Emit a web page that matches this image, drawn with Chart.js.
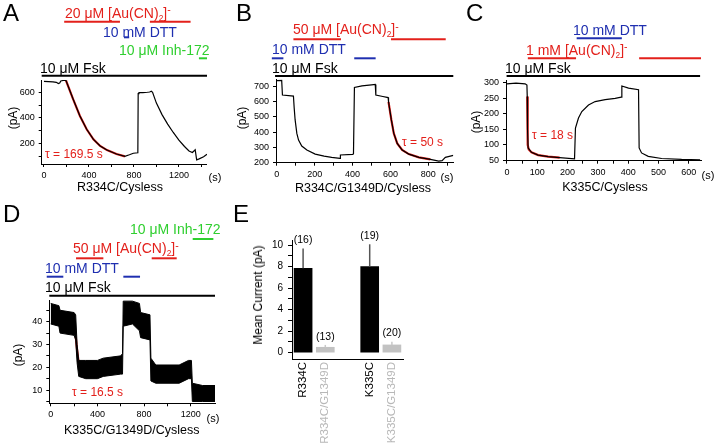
<!DOCTYPE html>
<html>
<head>
<meta charset="utf-8">
<script src="https://cdn.jsdelivr.net/npm/chart.js@4.4.1/dist/chart.umd.min.js"></script>
<style>
body { margin: 0; background: #fff; }
#fig { position: relative; width: 716px; height: 448px; overflow: hidden; font-family: 'Liberation Sans', Arial, sans-serif; }
#fig canvas { position: absolute; left: 0; top: 0; }
.t { position: absolute; white-space: nowrap; line-height: 1; font-size: 14px; transform: translateY(-50%); }
.c { transform: translate(-50%, -50%); }
.rot { transform: translate(-50%, -50%) rotate(-90deg); }
.p { font-size: 24px; }
.m { font-size: 12px; }
.ax { font-size: 12.5px; }
.u { font-size: 11px; }
.r { color: #e3201b; }
.b { color: #1f2fb0; }
.g { color: #2fcf2f; }
.sb { font-size: 0.6em; position: relative; top: 0.3em; }
.sp { font-size: 0.75em; position: relative; top: -0.45em; }
</style>
</head>
<body>
<div id="fig">
  <canvas id="cA" width="716" height="448"></canvas>
  <canvas id="cB" width="716" height="448"></canvas>
  <canvas id="cC" width="716" height="448"></canvas>
  <canvas id="cD" width="716" height="448"></canvas>
  <canvas id="cE" width="716" height="448"></canvas>

  <!-- panel A -->
  <div class="t p" style="left:3px;top:13px">A</div>
  <div class="t r" style="left:65px;top:13px">20 μM [Au(CN)<span class="sb">2</span>]<span class="sp">-</span></div>
  <div class="t b" style="left:103px;top:31.5px">10 mM DTT</div>
  <div class="t g" style="left:119px;top:50px">10 μM Inh-172</div>
  <div class="t" style="left:40px;top:68px">10 μM Fsk</div>
  <div class="t m r" style="left:45px;top:154px">τ = 169.5 s</div>
  <div class="t m rot" style="left:13px;top:118px">(pA)</div>
  <div class="t u c" style="left:215px;top:177px">(s)</div>
  <div class="t ax c" style="left:120px;top:187px">R334C/Cysless</div>

  <!-- panel B -->
  <div class="t p" style="left:236px;top:13px">B</div>
  <div class="t r" style="left:293px;top:29.3px">50 μM [Au(CN)<span class="sb">2</span>]<span class="sp">-</span></div>
  <div class="t b" style="left:272px;top:49.3px">10 mM DTT</div>
  <div class="t" style="left:272px;top:68.3px">10 μM Fsk</div>
  <div class="t m r" style="left:402px;top:141.7px">τ = 50 s</div>
  <div class="t m rot" style="left:242px;top:118px">(pA)</div>
  <div class="t u c" style="left:447px;top:177px">(s)</div>
  <div class="t ax c" style="left:363px;top:187.7px">R334C/G1349D/Cysless</div>

  <!-- panel C -->
  <div class="t p" style="left:466px;top:13px">C</div>
  <div class="t b" style="left:573px;top:30px">10 mM DTT</div>
  <div class="t r" style="left:526px;top:50px">1 mM [Au(CN)<span class="sb">2</span>]<span class="sp">-</span></div>
  <div class="t" style="left:505px;top:68px">10 μM Fsk</div>
  <div class="t m r" style="left:532px;top:135px">τ = 18 s</div>
  <div class="t m rot" style="left:476px;top:122px">(pA)</div>
  <div class="t u c" style="left:708px;top:175px">(s)</div>
  <div class="t ax c" style="left:605px;top:186.7px">K335C/Cysless</div>

  <!-- panel D -->
  <div class="t p" style="left:3px;top:213.5px">D</div>
  <div class="t g" style="left:130px;top:229px">10 μM Inh-172</div>
  <div class="t r" style="left:73px;top:248.3px">50 μM [Au(CN)<span class="sb">2</span>]<span class="sp">-</span></div>
  <div class="t b" style="left:45px;top:268.3px">10 mM DTT</div>
  <div class="t" style="left:45px;top:286.7px">10 μM Fsk</div>
  <div class="t m r" style="left:72px;top:391.7px">τ = 16.5 s</div>
  <div class="t m rot" style="left:18px;top:355px">(pA)</div>
  <div class="t u c" style="left:213px;top:418px">(s)</div>
  <div class="t ax c" style="left:131.7px;top:430px">K335C/G1349D/Cysless</div>

  <!-- panel E -->
  <div class="t p" style="left:233px;top:214px">E</div>
  <div class="t m rot" style="left:258.3px;top:295px">Mean Current (pA)</div>
</div>

<script>
const RED = '#e3201b', BLUE = '#1f2fb0', GREEN = '#2fcf2f'

// A: R334C/Cysless
const tA = [0, 80, 110, 128, 140, 150, 170, 196, 260, 320, 380, 440, 500, 560, 645, 720, 760, 795, 835, 838, 845, 880, 920, 940, 955, 966, 1000, 1050, 1100, 1150, 1200, 1250, 1290, 1320, 1345, 1352, 1358, 1380, 1420, 1450]
const iA = [686, 682, 678, 668, 672, 688, 692, 692, 545, 414, 310, 231, 179, 147, 116, 98, 110, 122, 126, 590, 598, 597, 600, 602, 608, 600, 515, 425, 350, 285, 225, 175, 140, 128, 150, 150, 70, 78, 95, 115]
const tFitA = [196, 260, 320, 380, 440, 500, 560, 645, 720]
const iFitA = [692, 545, 414, 310, 231, 179, 147, 116, 98]
const xTickA = [0, 400, 800, 1200], xMinorA = [200, 600, 1000, 1400]
const yTickA = [200, 400, 600], yMinorA = [100, 300, 500]
const fskA = [[-20, 1450]], auA = [[180, 676], [942, 1304]], dttA = [[711, 758]], inhA = [[1378, 1450]]

// B: R334C/G1349D/Cysless
const tB = [0, 26, 30, 88, 92, 97, 106, 115, 132, 159, 203, 250, 290, 334, 336, 400, 405, 410, 450, 500, 520, 523, 560, 588, 590, 605, 618, 636, 662, 697, 750, 811, 855, 873, 890, 932]
const iB = [740, 742, 645, 638, 560, 480, 391, 347, 307, 281, 254, 240, 232, 226, 248, 252, 255, 695, 705, 712, 715, 645, 635, 628, 600, 480, 391, 325, 281, 254, 232, 219, 208, 211, 232, 245]
const tFitB = [590, 605, 618, 636, 662, 697, 750, 811]
const iFitB = [600, 480, 391, 325, 281, 254, 232, 219]
const xTickB = [0, 200, 400, 600, 800], xMinorB = [100, 300, 500, 700, 900]
const yTickB = [200, 300, 400, 500, 600, 700], yMinorB = []
const fskB = [[-9, 932]], auB = [[88, 339], [603, 892]], dttB = [[-26, 35], [409, 522]]

// C: K335C/Cysless
const tC = [0, 30, 60, 66, 67, 68, 70, 81, 103, 136, 174, 223, 226, 236, 247, 269, 291, 324, 357, 377, 379, 401, 434, 436, 444, 466, 510, 576, 637]
const iC = [296, 298, 296, 292, 255, 150, 90, 76, 67, 62, 59, 55, 154, 186, 207, 228, 239, 245, 249, 253, 289, 282, 277, 90, 74, 63, 56, 53, 52]
const tFitC = [67, 68, 69, 72, 81, 103, 136, 174]
const iFitC = [255, 140, 100, 85, 76, 67, 62, 59]
const xTickC = [0, 100, 200, 300, 400, 500, 600], xMinorC = [50, 150, 250, 350, 450, 550]
const yTickC = [50, 100, 150, 200, 250, 300], yMinorC = []
const fskC = [[-1, 637]], auC = [[69, 228], [436, 640]], dttC = [[230, 379]]

// D: K335C/G1349D/Cysless (noisy trace kept as upper / lower envelope)
const tD = [0, 70, 80, 200, 214, 226, 240, 300, 400, 450, 600, 615, 621, 700, 760, 770, 850, 858, 900, 1100, 1180, 1205, 1213, 1300, 1407]
const hiD = [48, 47, 45, 44, 43, 30, 23, 23, 23, 24, 25, 26, 49, 49, 48, 44, 43, 24, 21, 21, 23, 23, 13, 12, 12]
const loD = [39, 38, 35, 34, 32, 22, 16, 15, 15, 16, 17, 17, 38, 39, 36, 33, 32, 14, 13, 13, 15, 15, 5, 5, 5]
const tFitD = [214, 228, 242, 271, 314, 400]
const iFitD = [33.4, 26.8, 21, 18.7, 17.6, 17.3]
const xTickD = [0, 400, 800, 1200], xMinorD = [200, 600, 1000]
const yTickD = [10, 20, 30, 40], yMinorD = [5, 15, 25, 35, 45]
const fskD = [[-12, 1407]], auD = [[217, 451], [865, 1079]], dttD = [[-34, 108], [622, 765]], inhD = [[1216, 1393]]

// E: mean current
const catE = ['R334C', 'R334C/G1349D', '', 'K335C', 'K335C/G1349D']
const meanE = [7.85, 0.5, null, 8.0, 0.72]
const errE = [9.7, 0.72, null, 10.08, 1.02]
const nE = ['(16)', '(13)', '', '(19)', '(20)']
const yTickE = [0, 2, 4, 6, 8, 10], yMinorE = [1, 3, 5, 7, 9]

Chart.defaults.font.family = "'Liberation Sans', Arial, sans-serif"

const pts = (t, v) => t.map((x, i) => ({ x, y: v[i] }))
const pad = (L, T, R, B, xh = 20) => ({ left: L - 40, top: T, right: 716 - R, bottom: 448 - B - xh })

// application bars drawn above the plot, in time units of the x scale
const drugBars = {
    id: 'drugBars',
    afterDraw(chart, args, opts) {
        const ctx = chart.ctx, x = chart.scales.x
        ;(opts.rows || []).forEach(r => {
            ctx.save()
            ctx.strokeStyle = r.color
            ctx.lineWidth = 2
            r.spans.forEach(([a, b]) => {
                ctx.beginPath()
                ctx.moveTo(x.getPixelForValue(a), r.y)
                ctx.lineTo(x.getPixelForValue(b), r.y)
                ctx.stroke()
            })
            ctx.restore()
        })
    }
}
Chart.register(drugBars)

function axis(min, max, majors, minors, fs, tl, padding) {
    return {
        type: 'linear', min, max,
        afterBuildTicks: s => { s.ticks = majors.concat(minors).sort((a, b) => a - b).map(v => ({ value: v })) },
        afterFit: s => { if (s.isHorizontal()) s.height = 20; else s.width = 40 },
        grid: { drawOnChartArea: false, drawTicks: true, tickLength: tl, tickColor: '#000', color: '#000' },
        border: { display: true, color: '#000', width: 1 },
        ticks: { autoSkip: false, maxRotation: 0, minRotation: 0, padding, color: '#000', font: { size: fs },
                 callback: v => majors.includes(v) ? String(v) : '' }
    }
}

function trace(id, box, xs, ys, datasets, rows) {
    new Chart(document.getElementById(id), {
        type: 'line',
        data: { datasets },
        options: {
            responsive: false, animation: false, devicePixelRatio: 1,
            layout: { padding: box },
            elements: { point: { radius: 0 }, line: { tension: 0 } },
            plugins: { legend: { display: false }, tooltip: { enabled: false }, drugBars: { rows } },
            scales: { x: xs, y: ys }
        }
    })
}

const black = d => ({ data: d, borderColor: '#000', borderWidth: 1.2, fill: false })
const fit = d => ({ data: d, borderColor: RED, borderWidth: 2.2, fill: false })

trace('cA', pad(41.7, 80, 207, 164),
    axis(-20, 1450, xTickA, xMinorA, 9, 3, 3), axis(38, 696, yTickA, yMinorA, 9, 3, 4),
    [black(pts(tA, iA)), fit(pts(tFitA, iFitA))],
    [{ y: 21.7, color: RED, spans: auA }, { y: 37.3, color: BLUE, spans: dttA },
     { y: 58.3, color: GREEN, spans: inhA }, { y: 75.7, color: '#000', spans: fskA }])

trace('cB', pad(276, 79.3, 453.3, 162.7),
    axis(-4, 932, xTickB, xMinorB, 9, 3, 3), axis(197, 749, yTickB, yMinorB, 9, 3, 4),
    [black(pts(tB, iB)), fit(pts(tFitB, iFitB))],
    [{ y: 39.3, color: RED, spans: auB }, { y: 58.3, color: BLUE, spans: dttB },
     { y: 76, color: '#000', spans: fskB }])

trace('cC', pad(506, 80.7, 701, 160.7),
    axis(-3, 640, xTickC, xMinorC, 9, 3, 3), axis(49, 306, yTickC, yMinorC, 9, 3, 4),
    [black(pts(tC, iC)), fit(pts(tFitC, iFitC))],
    [{ y: 38.3, color: BLUE, spans: dttC }, { y: 58.3, color: RED, spans: auC },
     { y: 76, color: '#000', spans: fskC }])

trace('cD', pad(49.3, 300, 215, 403.3),
    axis(-12, 1407, xTickD, xMinorD, 9, 3, 3), axis(4.2, 49.5, yTickD, yMinorD, 9, 3, 4),
    [{ data: pts(tD, hiD), borderColor: '#000', borderWidth: 1, backgroundColor: '#000', fill: '+1' },
     { data: pts(tD, loD), borderColor: '#000', borderWidth: 1, fill: false },
     fit(pts(tFitD, iFitD))],
    [{ y: 239, color: GREEN, spans: inhD }, { y: 258.3, color: RED, spans: auD },
     { y: 276.7, color: BLUE, spans: dttD }, { y: 295.7, color: '#000', spans: fskD }])

// E: bars with upper error line and n above
const barColE = ['#000', '#c2c2c2', '#000', '#000', '#c2c2c2']
const errColE = ['#555', '#c8c8c8', '#555', '#555', '#c8c8c8']
const labColE = ['#000', '#b8b8b8', '#000', '#000', '#b8b8b8']

const errBars = {
    id: 'errBars',
    afterDatasetsDraw(chart) {
        const ctx = chart.ctx, x = chart.scales.x, y = chart.scales.y
        meanE.forEach((m, i) => {
            if (m === null) return
            const px = x.getPixelForValue(i)
            const top = y.getPixelForValue(errE[i])
            ctx.save()
            ctx.strokeStyle = errColE[i]
            ctx.lineWidth = 1.5
            ctx.beginPath()
            ctx.moveTo(px, y.getPixelForValue(m))
            ctx.lineTo(px, top)
            ctx.stroke()
            ctx.fillStyle = '#000'
            ctx.font = "10.5px 'Liberation Sans', Arial, sans-serif"
            ctx.textAlign = 'center'
            ctx.textBaseline = 'bottom'
            ctx.fillText(nE[i], px, top - 3)
            ctx.restore()
        })
    }
}

const yE = axis(-0.59, 10.48, yTickE, yMinorE, 10, 4, 5)
new Chart(document.getElementById('cE'), {
    type: 'bar',
    data: { labels: catE, datasets: [{ data: meanE, backgroundColor: barColE, barThickness: 18 }] },
    options: {
        responsive: false, animation: false, devicePixelRatio: 1,
        layout: { padding: pad(292, 240, 403, 359, 88) },
        plugins: { legend: { display: false }, tooltip: { enabled: false } },
        scales: {
            x: {
                type: 'category', offset: true,
                afterFit: s => { s.height = 88 },
                grid: { display: false, drawTicks: false },
                border: { display: true, color: '#000', width: 1 },
                ticks: { autoSkip: false, minRotation: 90, maxRotation: 90, padding: 3,
                         font: { size: 11.5 }, color: ctx => labColE[ctx.index] }
            },
            y: yE
        }
    },
    plugins: [errBars]
})
</script>
</body>
</html>
